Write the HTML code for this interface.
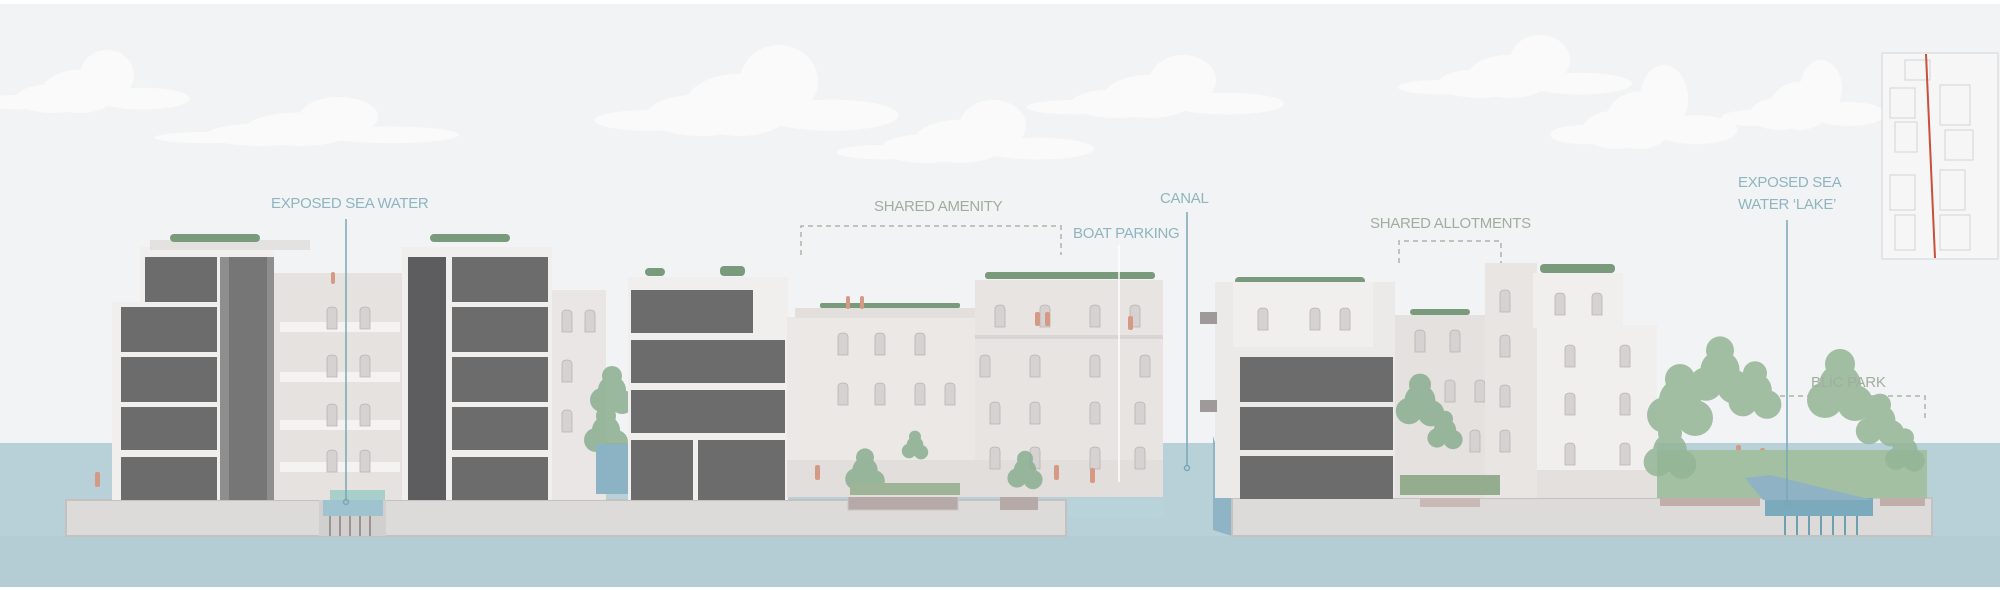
<!DOCTYPE html>
<html><head><meta charset="utf-8"><style>
html,body{margin:0;padding:0;background:#fff}
svg{display:block}
text{font-family:"Liberation Sans",sans-serif;font-size:15px;letter-spacing:-0.3px}
</style></head><body>
<svg width="2000" height="590" viewBox="0 0 2000 590" xmlns="http://www.w3.org/2000/svg">
<defs>
<g id="cl"><ellipse cx="0" cy="-4" rx="42" ry="24"/><ellipse cx="30" cy="-22" rx="30" ry="28"/><ellipse cx="-30" cy="4" rx="42" ry="16"/><ellipse cx="70" cy="4" rx="52" ry="12"/><ellipse cx="-70" cy="8" rx="42" ry="8"/></g>
<g id="w"><path d="M0 4 Q0 0 5 0 Q10 0 10 4 V22 H0Z" fill="#d6d2d1" stroke="#b9b4b3" stroke-width="0.8"/></g>
<g id="tr"><circle cx="0" cy="0" r="14"/><circle cx="-10" cy="10" r="12"/><circle cx="10" cy="12" r="12"/><circle cx="0" cy="-14" r="10"/></g>
</defs>
<rect width="2000" height="590" fill="#f2f3f4"/>
<rect width="2000" height="4" fill="#fff"/>
<g fill="#fafafa">
<use href="#cl" transform="translate(80,95) scale(0.9)"/>
<use href="#cl" transform="translate(300,132) scale(1.3,0.7)"/>
<use href="#cl" transform="translate(740,110) scale(1.3)"/>
<use href="#cl" transform="translate(960,145) scale(1.1,0.9)"/>
<use href="#cl" transform="translate(1150,100) scale(1.1,0.9)"/>
<use href="#cl" transform="translate(1510,80) scale(1.0,0.9)"/>
<use href="#cl" transform="translate(1640,125) scale(0.8,1.2)"/>
<use href="#cl" transform="translate(1800,110) scale(0.7,1)"/>
</g>
<rect x="0" y="443" width="2000" height="145" fill="#b8d1d8"/>
<rect x="0" y="536" width="2000" height="52" fill="#b4ccd3"/>
<rect x="0" y="587" width="2000" height="3" fill="#fff"/>
<g stroke="#d2d4d6" stroke-width="1" fill="none">
<rect x="1882" y="53" width="116" height="206" fill="#f6f6f7"/>
<rect x="1890" y="88" width="25" height="30"/><rect x="1895" y="122" width="22" height="30"/><rect x="1940" y="85" width="30" height="40"/>
<rect x="1945" y="130" width="28" height="30"/><rect x="1890" y="175" width="25" height="35"/><rect x="1940" y="170" width="25" height="40"/>
<rect x="1895" y="215" width="20" height="35"/><rect x="1940" y="215" width="30" height="35"/><rect x="1905" y="60" width="25" height="20"/>
</g>
<line x1="1926" y1="54" x2="1935" y2="258" stroke="#c9503a" stroke-width="2"/>
<rect x="66" y="500" width="1000" height="36" fill="#dcdbda" stroke="#c4c2c1" stroke-width="2"/>
<rect x="319" y="500" width="67" height="36" fill="#d2d0cf"/>
<rect x="323" y="500" width="60" height="16" fill="#9fc4cf"/>
<g stroke="#8a7e7c" stroke-width="1.5"><line x1="330" y1="516" x2="330" y2="536"/><line x1="340" y1="516" x2="340" y2="536"/><line x1="350" y1="516" x2="350" y2="536"/><line x1="360" y1="516" x2="360" y2="536"/><line x1="370" y1="516" x2="370" y2="536"/></g>
<rect x="848" y="496" width="110" height="14" fill="#b5aaa8" stroke="#cbc6c5"/>
<rect x="1000" y="496" width="38" height="14" fill="#b5aaa8"/>
<rect x="1068" y="500" width="96" height="18" fill="#b9d3da"/>
<rect x="112" y="302" width="162" height="198" fill="#f1efee"/>
<rect x="140" y="247" width="134" height="60" fill="#f1efee"/>
<rect x="150" y="240" width="160" height="10" fill="#e4e2e1"/>
<g fill="#6d6c6d"><rect x="145" y="257" width="72" height="45"/><rect x="121" y="307" width="96" height="45"/><rect x="121" y="357" width="96" height="45"/><rect x="121" y="407" width="96" height="43"/><rect x="121" y="457" width="96" height="43"/></g>
<rect x="220" y="257" width="54" height="243" fill="#8f8e8f"/>
<rect x="229" y="257" width="38" height="243" fill="#777677"/>
<rect x="274" y="273" width="134" height="227" fill="#e6e2e0"/>
<g fill="#f5f3f2"><rect x="280" y="322" width="120" height="10"/><rect x="280" y="372" width="120" height="10"/><rect x="280" y="420" width="120" height="10"/><rect x="280" y="462" width="120" height="10"/></g>
<g><use href="#w" x="327" y="307"/><use href="#w" x="360" y="307"/><use href="#w" x="327" y="355"/><use href="#w" x="360" y="355"/><use href="#w" x="327" y="404"/><use href="#w" x="360" y="404"/><use href="#w" x="327" y="450"/><use href="#w" x="360" y="450"/></g>
<rect x="330" y="490" width="55" height="10" fill="#a8cfc9"/>
<rect x="402" y="247" width="150" height="253" fill="#f1efee"/>
<rect x="408" y="257" width="38" height="243" fill="#5d5c5e"/>
<g fill="#6d6c6d"><rect x="452" y="257" width="96" height="45"/><rect x="452" y="307" width="96" height="45"/><rect x="452" y="357" width="96" height="45"/><rect x="452" y="407" width="96" height="43"/><rect x="452" y="457" width="96" height="43"/></g>
<rect x="552" y="290" width="54" height="210" fill="#e9e6e5"/>
<use href="#w" x="562" y="310"/><use href="#w" x="585" y="310"/><use href="#w" x="562" y="360"/><use href="#w" x="562" y="410"/>
<g fill="#8aae90" opacity="0.85"><use href="#tr" transform="translate(612,390)"/><use href="#tr" transform="translate(606,430)"/></g>
<rect x="596" y="444" width="36" height="50" fill="#8cb3c4"/>
<rect x="628" y="277" width="160" height="223" fill="#f1efee"/>
<g fill="#6d6c6d"><rect x="631" y="290" width="122" height="43"/><rect x="631" y="340" width="154" height="43"/><rect x="631" y="390" width="154" height="43"/><rect x="631" y="440" width="62" height="60"/><rect x="698" y="440" width="87" height="60"/></g>
<rect x="787" y="317" width="188" height="180" fill="#ebe8e6"/>
<rect x="795" y="308" width="180" height="10" fill="#e2dfdd"/>
<rect x="975" y="280" width="188" height="217" fill="#e7e4e2"/>
<rect x="975" y="335" width="188" height="4" fill="#d9d5d4"/>
<rect x="787" y="460" width="376" height="37" fill="#e2dedc"/>
<g><use href="#w" x="838" y="333"/><use href="#w" x="875" y="333"/><use href="#w" x="915" y="333"/><use href="#w" x="838" y="383"/><use href="#w" x="875" y="383"/><use href="#w" x="915" y="383"/><use href="#w" x="945" y="383"/>
<use href="#w" x="995" y="305"/><use href="#w" x="1040" y="305"/><use href="#w" x="1090" y="305"/><use href="#w" x="1130" y="305"/>
<use href="#w" x="980" y="355"/><use href="#w" x="1030" y="355"/><use href="#w" x="1090" y="355"/><use href="#w" x="1140" y="355"/>
<use href="#w" x="990" y="402"/><use href="#w" x="1030" y="402"/><use href="#w" x="1090" y="402"/><use href="#w" x="1135" y="402"/>
<use href="#w" x="990" y="447"/><use href="#w" x="1030" y="447"/><use href="#w" x="1090" y="447"/><use href="#w" x="1135" y="447"/></g>
<g fill="#8aae90" opacity="0.85"><use href="#tr" transform="translate(865,470) scale(0.9)"/><use href="#tr" transform="translate(915,445) scale(0.6)"/><use href="#tr" transform="translate(1025,470) scale(0.8)"/></g>
<rect x="850" y="483" width="110" height="12" fill="#9db596"/>
<g fill="#7a9a7c">
<rect x="170" y="234" width="90" height="8" rx="4"/><rect x="430" y="234" width="80" height="8" rx="4"/>
<rect x="645" y="268" width="20" height="8" rx="4"/><rect x="720" y="266" width="25" height="10" rx="4"/>
<rect x="820" y="303" width="140" height="5" rx="2"/><rect x="985" y="272" width="170" height="7" rx="3"/>
<rect x="1235" y="277" width="130" height="8" rx="4"/><rect x="1410" y="309" width="60" height="6" rx="3"/><rect x="1540" y="264" width="75" height="9" rx="4"/>
</g>
<g fill="#d59a83">
<rect x="331" y="272" width="4" height="12" rx="2"/><rect x="846" y="296" width="4" height="13" rx="2"/><rect x="860" y="296" width="4" height="13" rx="2"/>
<rect x="1035" y="312" width="5" height="14" rx="2"/><rect x="1045" y="312" width="5" height="14" rx="2"/><rect x="1128" y="316" width="5" height="14" rx="2"/>
<rect x="815" y="465" width="5" height="15" rx="2"/><rect x="1054" y="465" width="5" height="15" rx="2"/><rect x="1090" y="468" width="5" height="15" rx="2"/>
<rect x="95" y="472" width="5" height="15" rx="2"/><rect x="1350" y="335" width="5" height="13" rx="2"/><rect x="1435" y="455" width="5" height="16" rx="2"/>
<rect x="1736" y="445" width="5" height="15" rx="2"/><rect x="1760" y="448" width="5" height="14" rx="2"/><rect x="1850" y="466" width="5" height="15" rx="2"/>
</g>
<polygon points="1213,436 1232,500 1232,536 1213,530" fill="#8fb4c6"/>
<rect x="1232" y="498" width="700" height="38" fill="#dcdbda" stroke="#c4c2c1" stroke-width="2"/>
<rect x="1420" y="498" width="60" height="9" fill="#c9b9b6"/>
<rect x="1660" y="498" width="100" height="8" fill="#c0aeab"/>
<rect x="1765" y="498" width="108" height="18" fill="#7aaabc"/>
<g stroke="#6f9fb2" stroke-width="2"><line x1="1785" y1="516" x2="1785" y2="535"/><line x1="1797" y1="516" x2="1797" y2="535"/><line x1="1809" y1="516" x2="1809" y2="535"/><line x1="1821" y1="516" x2="1821" y2="535"/><line x1="1833" y1="516" x2="1833" y2="535"/><line x1="1845" y1="516" x2="1845" y2="535"/><line x1="1857" y1="516" x2="1857" y2="535"/></g>
<rect x="1880" y="498" width="45" height="8" fill="#c0aeab"/>
<rect x="1215" y="282" width="180" height="216" fill="#eceae8"/>
<rect x="1233" y="282" width="140" height="65" fill="#f1efee"/>
<use href="#w" x="1258" y="308"/><use href="#w" x="1310" y="308"/><use href="#w" x="1340" y="308"/>
<rect x="1200" y="312" width="17" height="12" fill="#9d9a99"/><rect x="1200" y="400" width="17" height="12" fill="#9d9a99"/>
<g fill="#6d6c6d"><rect x="1240" y="357" width="153" height="45"/><rect x="1240" y="407" width="153" height="43"/><rect x="1240" y="456" width="153" height="43"/></g>
<rect x="1395" y="315" width="110" height="183" fill="#e5e1df"/>
<use href="#w" x="1415" y="330"/><use href="#w" x="1450" y="330"/><use href="#w" x="1445" y="380"/><use href="#w" x="1475" y="380"/><use href="#w" x="1470" y="430"/>
<rect x="1485" y="263" width="52" height="235" fill="#e8e5e3"/>
<rect x="1533" y="273" width="90" height="55" fill="#f1efee"/>
<rect x="1537" y="325" width="120" height="173" fill="#f1efee"/>
<rect x="1537" y="470" width="120" height="28" fill="#e4e0de"/>
<use href="#w" x="1565" y="345"/><use href="#w" x="1620" y="345"/><use href="#w" x="1565" y="393"/><use href="#w" x="1620" y="393"/><use href="#w" x="1565" y="443"/><use href="#w" x="1620" y="443"/>
<use href="#w" x="1555" y="293"/><use href="#w" x="1592" y="293"/>
<use href="#w" x="1500" y="290"/><use href="#w" x="1500" y="335"/><use href="#w" x="1500" y="385"/><use href="#w" x="1500" y="430"/>
<g fill="#8aae90" opacity="0.85"><use href="#tr" transform="translate(1420,400) scale(1.1)"/><use href="#tr" transform="translate(1445,430) scale(0.8)"/></g>
<rect x="1400" y="475" width="100" height="20" fill="#93ad8e"/>
<rect x="1657" y="450" width="270" height="48" fill="#a3c0a3"/>
<polygon points="1745,478 1770,475 1873,500 1763,500" fill="#8fb3c4"/>
<g fill="#93b596" opacity="0.85">
<use href="#tr" transform="translate(1680,400) scale(1.5)"/><use href="#tr" transform="translate(1720,370) scale(1.4)"/><use href="#tr" transform="translate(1755,390) scale(1.2)"/>
<use href="#tr" transform="translate(1670,450) scale(1.2)"/><use href="#tr" transform="translate(1840,385) scale(1.5)"/><use href="#tr" transform="translate(1880,420) scale(1.1)"/><use href="#tr" transform="translate(1905,450) scale(0.9)"/>
</g>
<g fill="#8eb5c0">
<text x="271" y="208">EXPOSED SEA WATER</text>
<text x="1073" y="238">BOAT PARKING</text>
<text x="1160" y="203">CANAL</text>
<text x="1738" y="187">EXPOSED SEA</text>
<text x="1738" y="209">WATER ‘LAKE’</text>
</g>
<g fill="#a0ae9e">
<text x="874" y="211">SHARED AMENITY</text>
<text x="1370" y="228">SHARED ALLOTMENTS</text>
<text x="1811" y="387">BLIC PARK</text>
</g>
<g stroke="#7aa7b4" stroke-width="1.5" fill="none">
<line x1="346" y1="219" x2="346" y2="501"/><circle cx="346" cy="502" r="2.5"/>
<line x1="1187" y1="212" x2="1187" y2="466"/><circle cx="1187" cy="468" r="2.5"/>
<line x1="1787" y1="220" x2="1787" y2="502"/><circle cx="1787" cy="504" r="2.5"/>
</g>
<line x1="1119" y1="245" x2="1119" y2="482" stroke="#fff" stroke-width="1.5"/>
<g stroke="#a9b5a8" stroke-width="1.5" stroke-dasharray="5,4" fill="none">
<polyline points="801,255 801,226 1061,226 1061,255"/>
<polyline points="1399,263 1399,241 1501,241 1501,263"/>
<polyline points="1771,396 1925,396 1925,420"/>
</g>
</svg>
</body></html>
